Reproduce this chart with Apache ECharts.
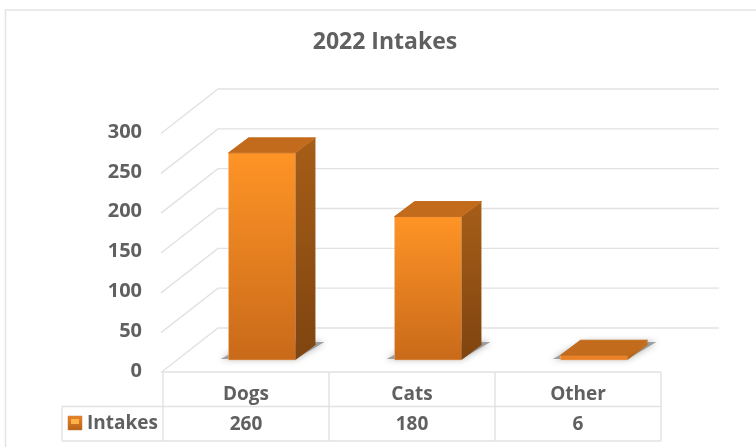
<!DOCTYPE html>
<html><head><meta charset="utf-8">
<style>html,body{margin:0;padding:0;background:#fff}#c{width:756px;height:447px}</style>
<script src="https://cdn.jsdelivr.net/npm/echarts@6/dist/echarts.min.js"></script>
</head><body><div id="c"></div>
<script>
const titleText = '2022 Intakes';
const seriesName = 'Intakes';
const categories = ['Dogs', 'Cats', 'Other'];
const intakes = [260, 180, 6];
const yTicks = [0, 50, 100, 150, 200, 250, 300];

const FONT = '"Open Sans", sans-serif';
const TXT = '#606060';
const GRID_LINE = '#e2e2e2';
const WALL = {dx: 55, dy: -43};      // back wall offset from the front plane
const BAR_FRONT = {dx: 16, dy: -11}; // bar front face offset from the front plane
const BAR_DEPTH = {dx: 20, dy: -15}; // bar depth
const BAR_WIDTH_RATIO = 0.403;
const WALL_RIGHT_EXT = 58;

const grad = (c0, c1, x2, y2) => ({type:'linear', x:0, y:0, x2:x2||0, y2:y2===undefined?1:y2,
  colorStops:[{offset:0,color:c0},{offset:1,color:c1}]});

const chart = echarts.init(document.getElementById('c'), null, {renderer:'canvas'});

function gridItem(params, api) {
  const v = api.value(0);
  const a = api.coord([0, v]);
  const size = api.size([1, 0])[0];
  const x0 = a[0] - size / 2, y = a[1];
  const right = x0 + size * 3 + WALL_RIGHT_EXT;
  return {
    type: 'polyline', silent: true,
    shape: {points: [[x0 - 2, y + 1.5], [x0 + WALL.dx, y + WALL.dy], [right, y + WALL.dy]]},
    style: {stroke: GRID_LINE, lineWidth: 1.4, fill: null}
  };
}

function barItem(params, api) {
  const i = api.value(0), v = api.value(1);
  const top = api.coord([i, v]);
  const base = api.coord([i, 0]);
  const w = api.size([1, 0])[0] * BAR_WIDTH_RATIO;
  const xL = top[0] - w / 2 + BAR_FRONT.dx, xR = xL + w;
  const yT = top[1] + BAR_FRONT.dy, yB = base[1] + BAR_FRONT.dy;
  const dx = BAR_DEPTH.dx, dy = BAR_DEPTH.dy;
  const flat = v < 20;
  return {
    type: 'group', silent: true,
    children: [
      {type:'polygon', shape:{points:[[xL-8,yB-1],[xR,yB-1],[xR+dx+9,yB+dy-3],[xL+dx+4,yB+dy-3]]},
        style:{fill:'rgba(110,110,110,0.6)', shadowBlur:7, shadowColor:'rgba(100,100,100,0.9)'}},
      {type:'polygon', shape:{points:[[xL,yB],[xR,yB],[xR,yT],[xL,yT]]},
        style:{fill: grad(flat?'#ef8526':'#ff9426', flat?'#e67c22':'#c96a1a'), stroke:'rgba(245,190,140,0.8)', lineWidth:0.6}},
      {type:'polygon', shape:{points:[[xR,yB],[xR+dx,yB+dy],[xR+dx,yT+dy],[xR,yT]]},
        style:{fill: grad(flat?'#c9741f':'#a65e18', flat?'#b0651a':'#7f4410'), lineJoin:'round'}},
      {type:'polygon', shape:{points:[[xL,yT],[xR,yT],[xR+dx,yT+dy],[xL+dx,yT+dy]]},
        style:{fill:'#c26b1c', stroke:'#c26b1c', lineWidth:1, lineJoin:'round'}}
    ]
  };
}

const tableLeft = 163, tableTop = 372, tableMid = 406.5, tableBottom = 441;
const colW = 166, legendLeft = 62;
const tl = (x1,y1,x2,y2) => ({type:'line', silent:true, shape:{x1,y1,x2,y2}, style:{stroke:GRID_LINE, lineWidth:1.4}});
const tableLines = [
  tl(tableLeft, tableTop, tableLeft+colW*3, tableTop),
  tl(legendLeft, tableMid, tableLeft+colW*3, tableMid),
  tl(legendLeft, tableBottom, tableLeft+colW*3, tableBottom),
  tl(legendLeft, tableMid, legendLeft, tableBottom),
  tl(tableLeft, tableTop, tableLeft, tableBottom),
  tl(tableLeft+colW, tableTop, tableLeft+colW, tableBottom),
  tl(tableLeft+colW*2, tableTop, tableLeft+colW*2, tableBottom),
  tl(tableLeft+colW*3, tableTop, tableLeft+colW*3, tableBottom),
];

chart.setOption({
  animation: false,
  backgroundColor: '#fff',
  title: {text: titleText, left: 380, top: 26, textAlign:'center',
    textStyle: {fontFamily: FONT, fontSize: 23, fontWeight: 'bold', color: TXT}},
  grid: {left: 163, top: 132, width: 498, height: 239},
  xAxis: [
    {type:'category', data: categories, position:'bottom', axisLine:{show:false}, axisTick:{show:false},
      axisLabel:{fontFamily:FONT, fontSize:19, fontWeight:'bold', color:TXT, margin:14}},
    {type:'category', data: intakes.map(String), position:'bottom', offset:30, axisLine:{show:false}, axisTick:{show:false},
      axisLabel:{fontFamily:FONT, fontSize:19, fontWeight:'bold', color:TXT, margin:14}}
  ],
  yAxis: {type:'value', min:0, max:300, interval:50, axisLine:{show:false}, axisTick:{show:false}, splitLine:{show:false},
    axisLabel:{fontFamily:FONT, fontSize:20, fontWeight:'bold', color:TXT, margin:21, padding:[3,0,0,0]}},
  series: [
    {type:'custom', name:'walls', clip:false, z:1, renderItem:gridItem, data: yTicks.map(v => [v]), encode:{y:0}},
    {type:'custom', name:seriesName, clip:false, z:2, renderItem:barItem,
      data: intakes.map((v,i) => [i,v]), encode:{x:0,y:1}}
  ],
  graphic: [
    {type:'rect', silent:true, shape:{x:5.5,y:10,width:800,height:500}, style:{fill:null, stroke:'#e4e4e4', lineWidth:1.5}, z:0},
    ...tableLines,
    {type:'rect', silent:true, shape:{x:68,y:416,width:14,height:14}, style:{fill:grad('#e8862a','#b8621a'), stroke:'#c97b3a', lineWidth:0.5}},
    {type:'rect', silent:true, shape:{x:71,y:419,width:8,height:5}, style:{fill:'#ffb347'}},
    {type:'text', silent:true, x:87, y:424, style:{text:seriesName, font:'bold 19px '+FONT, fill:TXT, textVerticalAlign:'middle'}}
  ]
});
</script></body></html>
